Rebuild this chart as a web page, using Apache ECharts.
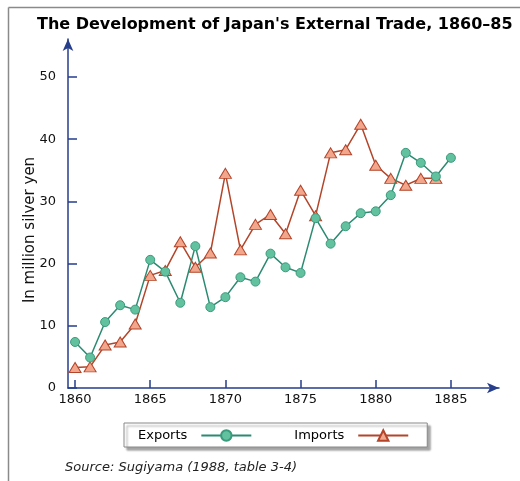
<!DOCTYPE html>
<html>
<head>
<meta charset="utf-8">
<script src="https://cdn.jsdelivr.net/npm/echarts@6/dist/echarts.min.js"></script>
<style>
html,body{margin:0;padding:0;background:#fff;}
#chart{width:520px;height:481px;}
</style>
</head>
<body>
<div id="chart"></div>
<script>
var years = [1860,1861,1862,1863,1864,1865,1866,1867,1868,1869,1870,1871,1872,1873,1874,1875,1876,1877,1878,1879,1880,1881,1882,1883,1884,1885];
var exportsVals = [7.4,4.9,10.6,13.3,12.6,20.6,18.7,13.7,22.8,13.0,14.6,17.8,17.1,21.6,19.4,18.5,27.3,23.2,26.0,28.1,28.4,31.0,37.8,36.2,34.0,37.0];
var importsVals = [3.3,3.4,6.9,7.4,10.3,18.1,18.9,23.5,19.4,21.7,34.5,22.2,26.3,27.9,24.8,31.8,27.7,37.8,38.3,42.4,35.8,33.7,32.6,33.7,33.7];
var xTicks = [1860,1865,1870,1875,1880,1885];
var yTicks = [0,10,20,30,40,50];

var chart = echarts.init(document.getElementById('chart'), null, {renderer:'canvas'});
var axisColor = '#263e8c';
var font = 'DejaVu Sans, Verdana, sans-serif';

function pairs(vals){ return vals.map(function(v,i){ return [years[i], v]; }); }

chart.setOption({
  animation:false,
  backgroundColor:'#fff',
  title:{
    text:"The Development of Japan's External Trade, 1860\u201385",
    left:32, top:12,
    textStyle:{fontFamily:font, fontSize:16, fontWeight:'bold', color:'#000'}
  },
  graphic:[
    {type:'line', shape:{x1:8.5,y1:7.5,x2:520,y2:7.5}, style:{stroke:'#8a8a8a', lineWidth:1.5}},
    {type:'line', shape:{x1:8.5,y1:7.5,x2:8.5,y2:481}, style:{stroke:'#8a8a8a', lineWidth:1.5}},
    {type:'text', x:30, y:230, rotation:Math.PI/2, style:{text:'In million silver yen', font:'15px DejaVu Sans, Verdana, sans-serif', fill:'#111', align:'center', verticalAlign:'middle'}},
    {type:'text', left:65, top:461, style:{text:'Source: Sugiyama (1988, table 3-4)', font:'italic 13px DejaVu Sans, Verdana, sans-serif', fill:'#222'}}
  ],
  grid:{left:68, right:21, top:39, bottom:93, containLabel:false},
  legend:{
    left:124, top:423,
    orient:'horizontal',
    align:'right',
    itemWidth:50, itemHeight:13, itemGap:42,
    padding:[6,18,5,14],
    backgroundColor:'#fff',
    borderColor:'#888', borderWidth:1,
    shadowColor:'rgba(0,0,0,0.35)', shadowBlur:2, shadowOffsetX:3, shadowOffsetY:3,
    textStyle:{fontFamily:font, fontSize:13, color:'#000', padding:[0,9,0,0]},
    data:['Exports','Imports']
  },
  xAxis:{
    type:'value', min:1859.53, max:1888.2,
    splitLine:{show:false},
    axisLine:{lineStyle:{color:axisColor, width:1.5}, symbol:['none','arrow'], symbolSize:[8,12], symbolOffset:[0,0]},
    axisTick:{inside:true, length:8, lineStyle:{color:axisColor, width:1.5}, customValues:xTicks},
    axisLabel:{customValues:xTicks, color:'#111', fontFamily:font, fontSize:13, margin:5, formatter:function(v){return String(v);}}
  },
  yAxis:{
    type:'value', min:0, max:56.1,
    splitLine:{show:false},
    axisLine:{onZero:false, lineStyle:{color:axisColor, width:1.5}, symbol:['none','arrow'], symbolSize:[8,12], symbolOffset:[0,0]},
    axisTick:{inside:true, length:9, lineStyle:{color:axisColor, width:1.5}, customValues:yTicks},
    axisLabel:{customValues:yTicks, color:'#111', fontFamily:font, fontSize:13, margin:12}
  },
  series:[
    {
      name:'Exports', type:'line', data:pairs(exportsVals),
      symbol:'circle', symbolSize:9,
      lineStyle:{color:'#2b8a70', width:1.5},
      itemStyle:{color:'#62c29f', borderColor:'#3a9a7c', borderWidth:1},
      z:3
    },
    {
      name:'Imports', type:'line', data:pairs(importsVals),
      symbol:'triangle', symbolSize:[12,10],
      lineStyle:{color:'#b3452a', width:1.5},
      itemStyle:{color:'#f2a68c', borderColor:'#b3452a', borderWidth:1},
      z:2
    }
  ]
});
</script>
</body>
</html>
